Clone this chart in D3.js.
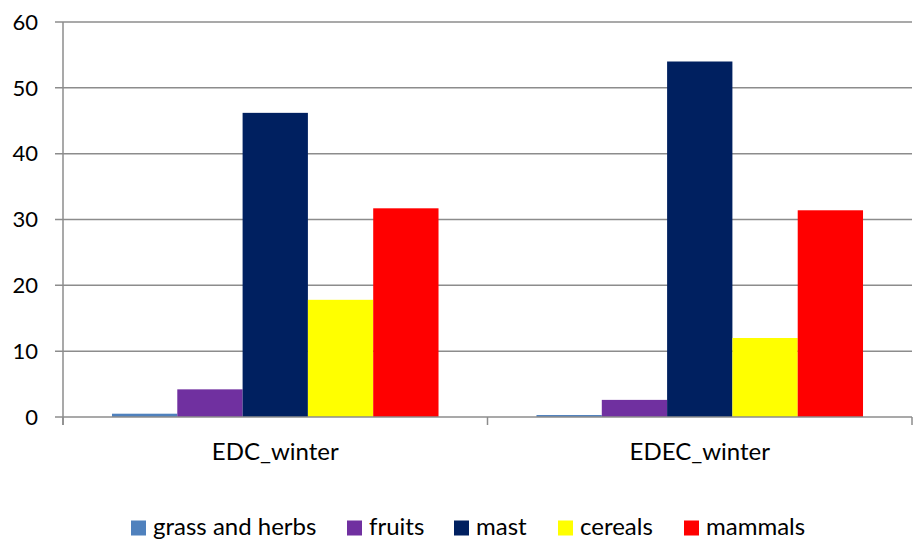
<!DOCTYPE html>
<html>
<head>
<meta charset="utf-8">
<script src="https://cdn.jsdelivr.net/npm/d3@7"></script>
<style>
  body { margin: 0; background: #fff; }
  text { font-family: Lato, "Open Sans", sans-serif; fill: #000; }
</style>
</head>
<body>
<svg id="chart" width="914" height="542"></svg>
<script>
// data
var categories = ["EDC_winter", "EDEC_winter"]
var seriesNames = ["grass and herbs", "fruits", "mast", "cereals", "mammals"]
var seriesColors = ["#4F81BD", "#7030A0", "#002060", "#FFFF00", "#FF0000"]
var values = [
  [0.5, 4.2, 46.2, 17.8, 31.7],   // EDC_winter
  [0.3, 2.6, 54.0, 12.0, 31.4]    // EDEC_winter
]
var yTicks = [0, 10, 20, 30, 40, 50, 60]

var dimensions = {
  width: 914,
  height: 542,
  margin: { top: 22, bottom: 125, right: 2, left: 63 }
}

var svg = d3.select("#chart")
var plotW = dimensions.width - dimensions.margin.left - dimensions.margin.right
var plotH = dimensions.height - dimensions.margin.top - dimensions.margin.bottom

var g = svg.append("g")
  .attr("transform", "translate(" + dimensions.margin.left + "," + dimensions.margin.top + ")")

var y = d3.scaleLinear().domain([0, 60]).range([plotH, 0])

var x0 = d3.scaleBand().domain(categories).range([0, plotW])
var bw = x0.bandwidth() / (seriesNames.length + 1.5) // excel gap width 150%
var x1 = d3.scaleBand().domain(seriesNames)
  .range([0.75 * bw, x0.bandwidth() - 0.75 * bw])

// gridlines
g.selectAll(".grid")
  .data(yTicks.slice(1))
  .enter().append("line")
  .attr("x1", -8)
  .attr("x2", plotW)
  .attr("y1", d => y(d))
  .attr("y2", d => y(d))
  .attr("stroke", "#8c8c8c")
  .attr("stroke-width", 1.5)

// bars
categories.forEach(function(cat, ci) {
  var grp = g.append("g").attr("transform", "translate(" + x0(cat) + ",0)")
  seriesNames.forEach(function(s, si) {
    var v = values[ci][si]
    grp.append("rect")
      .attr("x", x1(s))
      .attr("y", y(v))
      .attr("width", x1.bandwidth())
      .attr("height", plotH - y(v))
      .attr("fill", seriesColors[si])
  })
})

// y axis
g.append("line")
  .attr("x1", 0).attr("x2", 0)
  .attr("y1", 0).attr("y2", plotH + 8)
  .attr("stroke", "#8c8c8c").attr("stroke-width", 1.5)

g.append("line")
  .attr("x1", -8).attr("x2", plotW)
  .attr("y1", plotH).attr("y2", plotH)
  .attr("stroke", "#8c8c8c").attr("stroke-width", 1.5)

g.selectAll(".ylab")
  .data(yTicks)
  .enter().append("text")
  .attr("x", -25)
  .attr("y", d => y(d))
  .attr("dy", "0.35em")
  .attr("text-anchor", "end")
  .style("font-size", "22px")
  .text(d => d)

// category ticks
var catEdges = [0].concat(categories.map(c => x0(c) + x0.bandwidth()))
g.selectAll(".ctick")
  .data(catEdges)
  .enter().append("line")
  .attr("x1", d => d).attr("x2", d => d)
  .attr("y1", plotH).attr("y2", plotH + 8)
  .attr("stroke", "#8c8c8c").attr("stroke-width", 1.5)

g.selectAll(".clab")
  .data(categories)
  .enter().append("text")
  .attr("x", d => x0(d) + x0.bandwidth() / 2)
  .attr("y", plotH + 43)
  .attr("text-anchor", "middle")
  .style("font-size", "24px")
  .text(d => d)

// legend
var legendX = [131, 347, 454, 558, 684]
var legend = svg.append("g")
seriesNames.forEach(function(s, i) {
  legend.append("rect")
    .attr("x", legendX[i])
    .attr("y", 520.5)
    .attr("width", 15)
    .attr("height", 15)
    .attr("fill", seriesColors[i])
  legend.append("text")
    .attr("x", legendX[i] + 22)
    .attr("y", 535)
    .style("font-size", "24px")
    .text(s)
})
</script>
</body>
</html>
